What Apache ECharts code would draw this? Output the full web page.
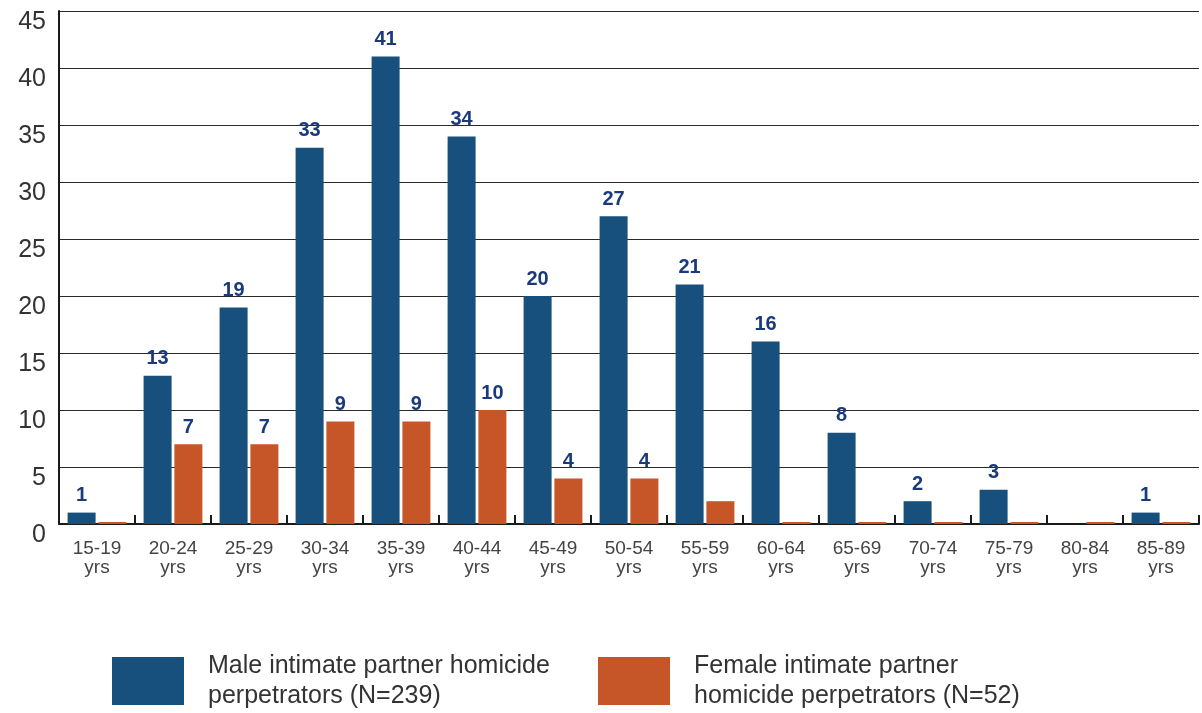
<!DOCTYPE html>
<html>
<head>
<meta charset="utf-8">
<script src="https://cdn.jsdelivr.net/npm/echarts@6/dist/echarts.min.js"></script>
<style>
    html, body { margin: 0; padding: 0; background: #fff; }
    #chart { width: 1202px; height: 713px; }
</style>
</head>
<body>
<div id="chart"></div>
<script>
const ageGroups = ['15-19', '20-24', '25-29', '30-34', '35-39', '40-44', '45-49', '50-54',
    '55-59', '60-64', '65-69', '70-74', '75-79', '80-84', '85-89']
const maleValues = [1, 13, 19, 33, 41, 34, 20, 27, 21, 16, 8, 2, 3, 0, 1]
const femaleValues = [0, 7, 7, 9, 9, 10, 4, 4, 2, 0, 0, 0, 0, 0, 0]
// the source leaves this female bar without a number
const femaleUnlabelled = ['55-59']
const yTicks = { min: 0, max: 45, interval: 5 }

const maleName = 'Male intimate partner homicide\nperpetrators (N=239)'
const femaleName = 'Female intimate partner\nhomicide perpetrators (N=52)'
const maleColor = '#17507d'
const femaleColor = '#c65627'
const labelColor = '#1b3a7c'
const font = 'Liberation Sans'

const chart = echarts.init(document.getElementById('chart'))

const toItems = (values, hidden) => values.map((v, i) => ({
    value: v,
    label: { show: v > 0 && !hidden.includes(ageGroups[i]) }
}))

const barLabel = {
    position: 'top',
    distance: 7,
    color: labelColor,
    fontWeight: 'bold',
    fontSize: 20,
    fontFamily: font
}

const legendBase = {
    orient: 'horizontal',
    itemWidth: 72,
    itemHeight: 48,
    itemGap: 0,
    padding: 0,
    top: 651,
    icon: 'rect',
    selectedMode: false,
    textStyle: {
        fontSize: 25,
        lineHeight: 30,
        color: '#333',
        fontFamily: font,
        padding: [0, 0, 0, 19]
    }
}

const option = {
    animation: false,
    grid: { left: 59, right: 3, top: 11, bottom: 189 },
    legend: [
        Object.assign({}, legendBase, { left: 112, data: [maleName] }),
        Object.assign({}, legendBase, { left: 598, data: [femaleName] })
    ],
    xAxis: {
        type: 'category',
        data: ageGroups,
        axisLine: { lineStyle: { color: '#1a1a1a', width: 2 } },
        axisTick: { show: true, inside: true, length: 9, lineStyle: { color: '#1a1a1a', width: 2 } },
        axisLabel: {
            interval: 0,
            margin: 15,
            fontSize: 19,
            lineHeight: 19,
            color: '#444',
            fontFamily: font,
            formatter: v => v + '\nyrs'
        }
    },
    yAxis: {
        type: 'value',
        min: yTicks.min,
        max: yTicks.max,
        interval: yTicks.interval,
        axisLine: { show: true, lineStyle: { color: '#1a1a1a', width: 2 } },
        axisTick: { show: false },
        splitLine: { lineStyle: { color: '#2a2a2a', width: 1 } },
        axisLabel: {
            margin: 13,
            fontSize: 25,
            lineHeight: 22,
            verticalAlign: 'top',
            color: '#333',
            fontFamily: font
        }
    },
    series: [
        {
            name: maleName,
            type: 'bar',
            barWidth: 28,
            barGap: '10%',
            itemStyle: { color: maleColor },
            label: Object.assign({ show: true }, barLabel),
            data: toItems(maleValues, [])
        },
        {
            name: femaleName,
            type: 'bar',
            barWidth: 28,
            barMinHeight: 2,
            itemStyle: { color: femaleColor },
            label: Object.assign({ show: true }, barLabel),
            data: toItems(femaleValues, femaleUnlabelled)
        }
    ]
}

chart.setOption(option)
</script>
</body>
</html>
